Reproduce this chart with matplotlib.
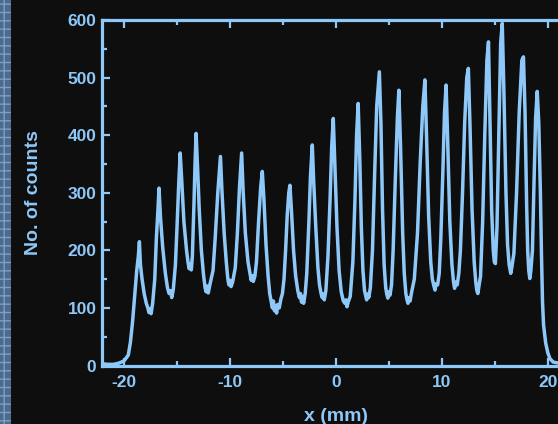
import matplotlib
matplotlib.use("Agg")
import matplotlib.pyplot as plt
from matplotlib.patches import Rectangle
from matplotlib.ticker import MultipleLocator

# ---- data ----
x_mm = [-22.1, -21.5, -21.0, -20.5, -20.0, -19.6, -19.4, -19.2, -19.0, -18.8,
        -18.65, -18.55, -18.45, -18.3, -18.1, -17.9, -17.75, -17.65, -17.55, -17.45,
        -17.3, -17.1, -16.95, -16.8, -16.7, -16.55, -16.35, -16.1, -15.9, -15.75,
        -15.6, -15.5, -15.35, -15.15, -15.0, -14.85, -14.7, -14.55, -14.35, -14.1,
        -13.95, -13.85, -13.75, -13.65, -13.55, -13.4, -13.3, -13.2, -13.05, -12.9,
        -12.7, -12.5, -12.35, -12.25, -12.15, -12.05, -11.9, -11.6, -11.4, -11.15,
        -10.9, -10.75, -10.55, -10.35, -10.2, -10.1, -10.0, -9.9, -9.75, -9.5,
        -9.3, -9.1, -8.9, -8.75, -8.55, -8.3, -8.1, -8.0, -7.9, -7.8,
        -7.65, -7.5, -7.3, -7.1, -6.95, -6.8, -6.6, -6.4, -6.25, -6.1,
        -6.0, -5.9, -5.8, -5.7, -5.6, -5.5, -5.35, -5.2, -5.05, -4.9,
        -4.75, -4.6, -4.45, -4.34, -4.2, -4.0, -3.8, -3.6, -3.45, -3.35,
        -3.25, -3.15, -3.05, -2.9, -2.75, -2.55, -2.4, -2.23, -2.1, -1.9,
        -1.7, -1.55, -1.4, -1.3, -1.2, -1.1, -0.95, -0.75, -0.55, -0.4,
        -0.25, -0.1, 0.1, 0.3, 0.5, 0.7, 0.85, 0.95, 1.05, 1.15,
        1.35, 1.6, 1.8, 1.95, 2.1, 2.25, 2.4, 2.55, 2.7, 2.8,
        2.9, 3.0, 3.1, 3.25, 3.45, 3.65, 3.85, 4.1, 4.25, 4.4,
        4.55, 4.7, 4.8, 4.9, 5.0, 5.1, 5.25, 5.4, 5.6, 5.8,
        5.94, 6.1, 6.3, 6.45, 6.6, 6.7, 6.8, 6.9, 7.0, 7.15,
        7.4, 7.7, 7.95, 8.2, 8.4, 8.55, 8.75, 8.95, 9.1, 9.25,
        9.35, 9.45, 9.6, 9.75, 9.9, 10.1, 10.25, 10.4, 10.55, 10.75,
        10.95, 11.1, 11.2, 11.3, 11.45, 11.6, 11.75, 11.95, 12.15, 12.35,
        12.5, 12.65, 12.85, 13.05, 13.2, 13.3, 13.4, 13.5, 13.65, 13.85,
        14.05, 14.25, 14.4, 14.55, 14.7, 14.85, 14.95, 15.05, 15.2, 15.4,
        15.55, 15.7, 15.85, 16.05, 16.2, 16.35, 16.5, 16.6, 16.8, 17.05,
        17.3, 17.55, 17.7, 17.85, 18.0, 18.1, 18.2, 18.3, 18.4, 18.55,
        18.7, 18.85, 19.0, 19.15, 19.3, 19.4, 19.5, 19.6, 19.8, 20.0,
        20.2, 20.5, 21.0, 22.0]
counts = [3, 2, 2, 4, 8, 18, 40, 75, 120, 165,
          190, 215, 175, 150, 125, 108, 100, 92, 98, 90,
          108, 150, 220, 270, 308, 255, 205, 160, 135, 125,
          130, 118, 132, 175, 240, 310, 369, 320, 250, 200,
          178, 168, 176, 166, 190, 280, 350, 403, 340, 270,
          200, 158, 135, 128, 138, 126, 140, 165, 220, 300,
          363, 300, 230, 180, 150, 140, 148, 137, 145, 170,
          230, 310, 369, 300, 230, 180, 158, 148, 156, 146,
          155, 180, 250, 310, 337, 290, 210, 155, 125, 110,
          100, 112, 95, 104, 91, 106, 100, 115, 125, 150,
          200, 260, 300, 313, 270, 200, 155, 130, 118, 125,
          110, 120, 108, 125, 160, 250, 330, 383, 320, 240,
          170, 140, 125, 118, 124, 114, 130, 190, 290, 380,
          429, 350, 240, 165, 128, 112, 108, 114, 102, 110,
          120, 180, 290, 400, 455, 360, 240, 165, 130, 122,
          114, 124, 118, 135, 200, 330, 450, 510, 420, 270,
          175, 135, 124, 117, 128, 122, 140, 200, 320, 430,
          478, 380, 230, 160, 125, 115, 108, 118, 112, 128,
          150, 230, 350, 450, 496, 400, 260, 180, 150, 138,
          131, 142, 140, 160, 220, 340, 440, 487, 390, 250,
          175, 145, 134, 145, 140, 160, 200, 300, 420, 500,
          516, 420, 270, 180, 145, 130, 125, 138, 155, 250,
          400, 530, 562, 420, 270, 200, 180, 177, 240, 420,
          560, 594, 480, 300, 210, 175, 160, 170, 195, 300,
          440, 530, 536, 440, 280, 200, 165, 151, 165, 200,
          320, 430, 476, 420, 300, 195, 110, 70, 39, 22,
          12, 6, 4, 3]

x_ticks = [-20, -10, 0, 10, 20]
y_ticks = [0, 100, 200, 300, 400, 500, 600]
x_label = "x (mm)"
y_label = "No. of counts"

# ---- style ----
BG = "#0e0e0e"
FG = "#8ec8f8"
plt.rcParams["font.family"] = ["Liberation Sans", "DejaVu Sans"]
plt.rcParams["axes.unicode_minus"] = False

fig = plt.figure(figsize=(5.58, 4.24), dpi=100, facecolor=BG)
# axes extends past the right edge of the figure (cropped like the reference)
ax = fig.add_axes([102 / 558, 58.5 / 424, (569 - 102) / 558, 345.5 / 424], facecolor=BG)

ax.plot(x_mm, counts, color=FG, lw=2.5, solid_joinstyle="round")

ax.set_xlim(-22.08, 22.0)
ax.set_ylim(0, 600)
ax.set_xticks(x_ticks)
ax.set_yticks(y_ticks)
ax.xaxis.set_minor_locator(MultipleLocator(5))
ax.yaxis.set_minor_locator(MultipleLocator(50))

for s in ax.spines.values():
    s.set_color(FG)
    s.set_linewidth(2.3)

ax.tick_params(which="both", direction="in", top=True, right=True,
               color=FG, labelcolor=FG, width=1.6)
ax.tick_params(which="major", length=6)
ax.tick_params(which="minor", length=3.5)
ax.tick_params(axis="x", which="major", pad=7, labelsize=12.5)
ax.tick_params(axis="y", which="major", pad=4, labelsize=12.5)
for lab in ax.get_xticklabels() + ax.get_yticklabels():
    lab.set_fontweight("bold")

ax.set_xlabel(x_label, color=FG, fontsize=14, fontweight="bold", labelpad=13)
ax.set_ylabel(y_label, color=FG, fontsize=14, fontweight="bold", labelpad=18.5)

# left patterned strip
strip = Rectangle((0, 0), 11 / 558, 1, transform=fig.transFigure,
                  facecolor="#4c6a8c", edgecolor="#7e9fc4", hatch="++",
                  linewidth=0, zorder=-1)
fig.patches.append(strip)

fig.savefig("out.png", dpi=100, facecolor=BG)
